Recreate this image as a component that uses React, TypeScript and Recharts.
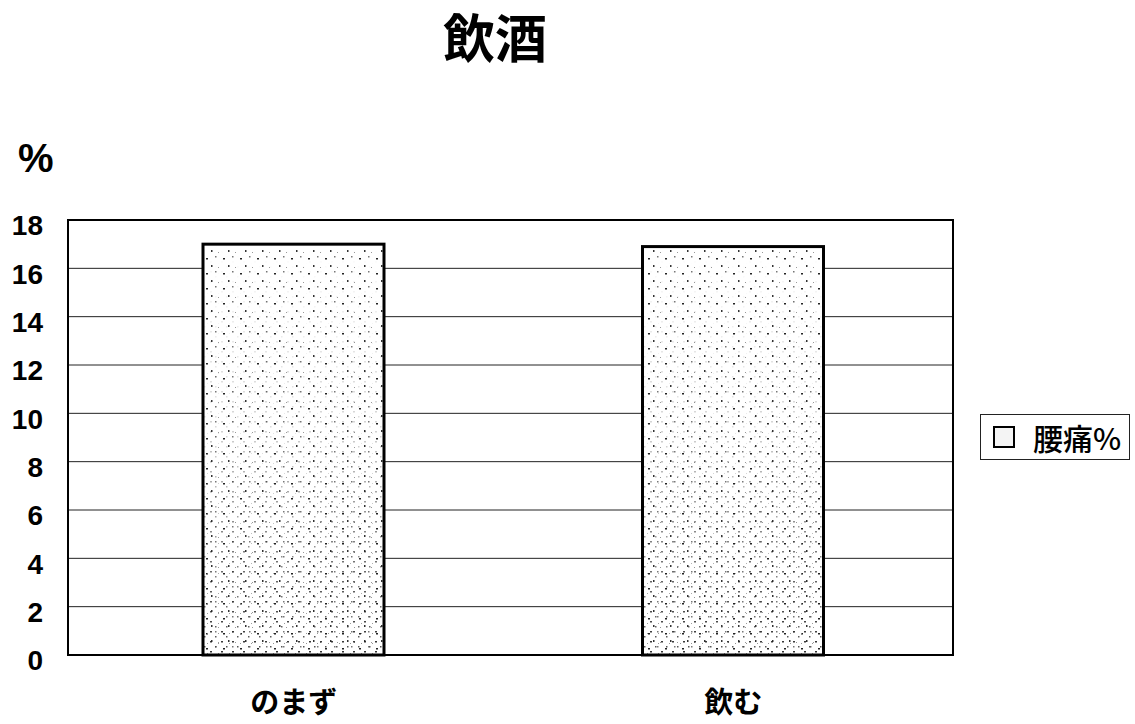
import { BarChart, Bar, XAxis, YAxis, CartesianGrid, Legend, ReferenceArea } from "recharts";

// 飲酒の有無別 腰痛の割合
const categories = ["のまず", "飲む"];
const backPainPct = [17.0, 16.9];
const yTicks = [0, 2, 4, 6, 8, 10, 12, 14, 16, 18];
const seriesName = "腰痛%";

const data = categories.map((name, i) => ({ name, value: backPainPct[i] }));

const NUM_FONT = "'Liberation Sans', Arial, 'Noto Sans CJK JP', sans-serif";
const JP_FONT = "'Noto Sans CJK JP', 'Liberation Sans', sans-serif";

// stippled bar fill: light dots everywhere, denser speckle toward the base
const StippleBar = (props: any) => {
    const { x, y, width, height, index } = props;
    const maskId = `dense-${index}`;
    return (
        <g>
            <defs>
                <linearGradient id={`fade-${index}`} x1="0" y1="0" x2="0" y2="1">
                    <stop offset="0" stopColor="#000" />
                    <stop offset="0.45" stopColor="#333" />
                    <stop offset="1" stopColor="#eee" />
                </linearGradient>
                <mask id={maskId} maskUnits="userSpaceOnUse" x={x} y={y} width={width} height={height}>
                    <rect x={x} y={y} width={width} height={height} fill={`url(#fade-${index})`} />
                </mask>
            </defs>
            <rect x={x} y={y} width={width} height={height} fill="#fff" />
            <rect x={x} y={y} width={width} height={height} fill="url(#stippleSparse)" />
            <rect x={x} y={y} width={width} height={height} fill="url(#stippleDense)" mask={`url(#${maskId})`} />
            <rect x={x} y={y} width={width} height={height} fill="none" stroke="#000" strokeWidth={3} />
        </g>
    );
};

const YTick = ({ x, y, payload }: any) => (
    <text x={x} y={y + 8} textAnchor="end" dominantBaseline="middle" fontFamily={NUM_FONT} fontWeight="bold" fontSize={28} fill="#000">
        {payload.value}
    </text>
);

const XTick = ({ x, y, payload }: any) => (
    <text x={x} y={y + 48} textAnchor="middle" dominantBaseline="middle" fontFamily={JP_FONT} fontWeight="bold" fontSize={29} fill="#000">
        {payload.value}
    </text>
);

const LegendBox = () => (
    <div
        style={{
            border: "1.5px solid #222",
            width: 150,
            height: 46,
            boxSizing: "border-box",
            display: "flex",
            alignItems: "center",
            fontFamily: JP_FONT,
            fontWeight: 500,
            fontSize: 30,
            color: "#000",
            background: "#fff",
        }}
    >
        <span style={{ display: "inline-block", width: 18, height: 18, border: "2px solid #000", background: "#f4f4f4", marginLeft: 12, marginRight: 18 }} />
        <span style={{ lineHeight: 1 }}>{seriesName}</span>
    </div>
);

export default function App() {
    return (
        <div style={{ position: "absolute", left: 0, top: 0, width: 1135, height: 724, background: "#fff" }}>
            <div style={{ position: "absolute", left: 395, width: 200, top: 6, textAlign: "center", fontFamily: JP_FONT, fontWeight: "bold", fontSize: 52, lineHeight: "60px" }}>
                飲酒
            </div>
            <div style={{ position: "absolute", left: 18, top: 135, fontFamily: NUM_FONT, fontWeight: "bold", fontSize: 40, lineHeight: "46px" }}>
                %
            </div>
            <BarChart width={1135} height={724} data={data} margin={{ top: 220, right: 182, bottom: 39, left: 0 }} barSize={181}>
                <defs>
                    <pattern id="stippleSparse" width="17" height="15" patternUnits="userSpaceOnUse">
                        <rect x="2" y="3" width="2" height="1.5" fill="#222" />
                        <rect x="11" y="1" width="1.5" height="1.5" fill="#777" />
                        <rect x="7" y="10" width="1.5" height="2" fill="#333" />
                        <rect x="14" y="12" width="1" height="1" fill="#999" />
                    </pattern>
                    <pattern id="stippleDense" width="11" height="10" patternUnits="userSpaceOnUse">
                        <rect x="1" y="1" width="2" height="1.5" fill="#222" />
                        <rect x="6" y="6" width="1.5" height="1.5" fill="#444" />
                        <rect x="9" y="3" width="1" height="1" fill="#888" />
                    </pattern>
                </defs>
                <CartesianGrid vertical={false} stroke="#222" strokeWidth={1} />
                <XAxis dataKey="name" height={30} padding={{ left: 6 }} tick={<XTick />} tickLine={false} axisLine={false} tickSize={0} />
                {/* unpadded axis, only used to span the plot frame */}
                <XAxis xAxisId="frame" dataKey="name" hide />
                <YAxis width={68} domain={[0, 18]} ticks={yTicks} tick={<YTick />} tickLine={false} axisLine={false} tickSize={0} tickMargin={25} interval={0} />
                <ReferenceArea xAxisId="frame" y1={0} y2={18} fill="none" stroke="#000" strokeWidth={2} ifOverflow="visible" />
                <Bar dataKey="value" name={seriesName} shape={<StippleBar />} isAnimationActive={false} />
                <Legend
                    layout="horizontal"
                    align="center"
                    verticalAlign="middle"
                    content={<LegendBox />}
                    wrapperStyle={{ position: "absolute", left: 980, top: 414, width: 150 }}
                />
            </BarChart>
        </div>
    );
}
